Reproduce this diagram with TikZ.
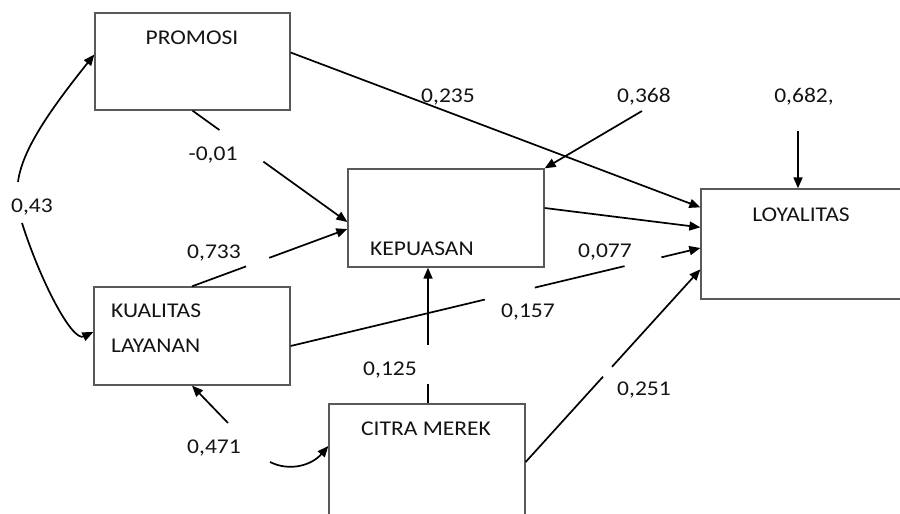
\documentclass[tikz,border=0pt]{standalone}
\usepackage{fontspec}
\setmainfont{Carlito}[FakeStretch=1.12]
\usetikzlibrary{arrows.meta,calc}
\begin{document}
\begin{tikzpicture}[x=1pt,y=-1pt,
  box/.style={draw=black!65, line width=1.3pt, rectangle, inner sep=0pt},
  arr/.style={line width=1.7pt, -{Triangle[length=11pt,width=9pt]}},
  ln/.style={line width=1.7pt},
  txt/.style={font=\fontsize{21}{25}\selectfont, text=black!92, inner sep=0pt},
]
\useasboundingbox (0,0) rectangle (900,514);
\clip (0,0) rectangle (900,514);
\fill[white] (0,0) rectangle (900,514);

% boxes
\node[box, minimum width=195pt, minimum height=97pt] (P) at (192.5,61.5) {};
\node[box, minimum width=196pt, minimum height=98pt] (K) at (446,218) {};
\node[box, minimum width=201pt, minimum height=110pt] (L) at (801.5,244) {};
\node[box, minimum width=196pt, minimum height=98pt] (Q) at (192,336) {};
\node[box, minimum width=196pt, minimum height=116pt] (C) at (427,462) {};

% box texts
\node[txt, anchor=base] (tP) at (192,44) {PROMOSI};
\node[txt, anchor=base west] (tK) at (370,255) {KEPUASAN};
\node[txt, anchor=base] (tL) at (801,221) {LOYALITAS};
\node[txt, anchor=base west] (tQa) at (111,317) {KUALITAS};
\node[txt, anchor=base west] (tQb) at (111,352) {LAYANAN};
\node[txt, anchor=base west] (tC) at (361,435) {CITRA MEREK};

% PROMOSI -> LOYALITAS
\coordinate (pl1) at ($(P.east)+(0,-9)$);
\coordinate (pl2) at ($(L.north west)+(0,19)$);
\draw[arr] (pl1) -- (pl2);

% PROMOSI -> KEPUASAN
\coordinate (pk1) at (P.south);
\coordinate (pk2) at ($(K.west)+(0,4)$);
\draw[ln] (pk1) -- ($(pk1)!0.174!(pk2)$);
\draw[arr] ($(pk1)!0.458!(pk2)$) -- (pk2);

% KUALITAS -> KEPUASAN
\coordinate (qk1) at (Q.north);
\coordinate (qk2) at ($(K.west)+(0,11)$);
\draw[ln] (qk1) -- ($(qk1)!0.348!(qk2)$);
\draw[arr] ($(qk1)!0.497!(qk2)$) -- (qk2);

% error KEPUASAN
\coordinate (e368) at (642,111);
\draw[arr] (e368) -- (K.north east);

% KEPUASAN -> LOYALITAS
\coordinate (kl1) at ($(K.east)+(0,-10)$);
\coordinate (kl2) at ($(L.north west)+(0,39)$);
\draw[arr] (kl1) -- (kl2);

% KUALITAS -> LOYALITAS
\coordinate (ql1) at ($(Q.east)+(0,10)$);
\coordinate (ql2) at ($(L.west)+(0,4)$);
\draw[ln] (ql1) -- ($(ql1)!0.474!(ql2)$);
\draw[ln] ($(ql1)!0.596!(ql2)$) -- ($(ql1)!0.815!(ql2)$);
\draw[arr] ($(ql1)!0.905!(ql2)$) -- (ql2);

% CITRA -> KEPUASAN
\coordinate (ck1) at ($(C.north)+(1,0)$);
\coordinate (ck2) at (ck1 |- K.south);
\draw[ln] (ck1) -- ($(ck1)!0.139!(ck2)$);
\draw[arr] ($(ck1)!0.431!(ck2)$) -- (ck2);

% CITRA -> LOYALITAS
\coordinate (cl1) at (C.east);
\coordinate (cl2) at ($(L.north west)+(0,81)$);
\draw[ln] (cl1) -- ($(cl1)!0.443!(cl2)$);
\draw[arr] ($(cl1)!0.494!(cl2)$) -- (cl2);

% error LOYALITAS
\coordinate (e682) at (798,131);
\draw[arr] (e682) -- (e682 |- L.north);

% correlation PROMOSI - KUALITAS
\coordinate (a43) at (18,182);
\coordinate (b43) at (22,223);
\draw[arr] (a43) .. controls (22,150) and (50,110) .. ($(P.west)+(0,-7)$);
\draw[arr] (b43) .. controls (40,280) and (72,342) .. ($(Q.west)+(0,-4)$);

% correlation KUALITAS - CITRA
\coordinate (a471) at (228,423);
\draw[arr] (a471) -- (Q.south);
\coordinate (b471) at (270,462);
\draw[arr] (b471) .. controls (290,472) and (312,465) .. ($(C.west)+(0,-16)$);

% labels
\node[txt, anchor=base] (l235) at (448,102) {0,235};
\node[txt, anchor=base] (l368) at (644,102) {0,368};
\node[txt, anchor=base] (l682) at (804,102) {0,682,};
\node[txt, anchor=base] (l001) at (213,160) {-0,01};
\node[txt, anchor=base] (l43) at (32,212) {0,43};
\node[txt, anchor=base] (l733) at (214,258) {0,733};
\node[txt, anchor=base] (l077) at (605,257) {0,077};
\node[txt, anchor=base] (l157) at (528,317) {0,157};
\node[txt, anchor=base] (l125) at (390,375) {0,125};
\node[txt, anchor=base] (l471) at (214,453) {0,471};
\node[txt, anchor=base] (l251) at (644,395) {0,251};
\end{tikzpicture}
\end{document}
